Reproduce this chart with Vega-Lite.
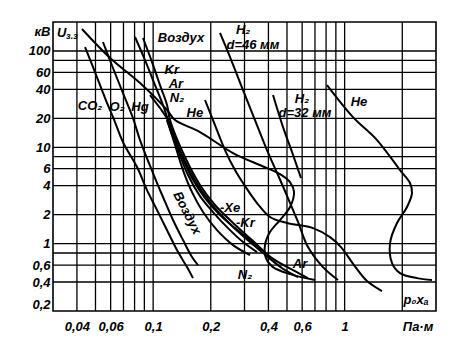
{
  "$schema": "https://vega.github.io/schema/vega-lite/v6.json",
  "autosize": {"type": "none"},
  "width": 383,
  "height": 289,
  "padding": {"left": 53, "top": 22, "right": 32, "bottom": 45},
  "background": "white",
  "config": {
    "view": {"stroke": "black", "strokeWidth": 1.6},
    "text": {"font": "Liberation Sans", "fontStyle": "italic", "fontWeight": "bold", "fontSize": 13, "color": "black", "baseline": "middle"},
    "axis": {"labelFont": "Liberation Sans", "labelFontStyle": "italic", "labelFontWeight": "bold", "labelFontSize": 13, "labelColor": "black", "grid": false, "ticks": false, "domain": false, "title": null, "labelOverlap": false, "labelFlush": false}
  },
  "datasets": {
    "curves": [
      {"s":"CO2","o":1,"x":0.0441,"y":110},{"s":"CO2","o":2,"x":0.0497,"y":60.5},{"s":"CO2","o":3,"x":0.0561,"y":32.5},{"s":"CO2","o":4,"x":0.0632,"y":18.3},{"s":"CO2","o":5,"x":0.0696,"y":11.3},{"s":"CO2","o":6,"x":0.0824,"y":6.24},{"s":"CO2","o":7,"x":0.0929,"y":3.6},{"s":"CO2","o":8,"x":0.1048,"y":2.23},{"s":"CO2","o":9,"x":0.1182,"y":1.38},{"s":"CO2","o":10,"x":0.1332,"y":0.858},{"s":"CO2","o":11,"x":0.1503,"y":0.571},{"s":"CO2","o":12,"x":0.1615,"y":0.439},
      {"s":"O2","o":1,"x":0.0547,"y":124},{"s":"O2","o":2,"x":0.0617,"y":66.6},{"s":"O2","o":3,"x":0.0696,"y":36.6},{"s":"O2","o":4,"x":0.0785,"y":20.1},{"s":"O2","o":5,"x":0.0854,"y":11.9},{"s":"O2","o":6,"x":0.0998,"y":5.41},{"s":"O2","o":7,"x":0.1126,"y":3.05},{"s":"O2","o":8,"x":0.127,"y":1.76},{"s":"O2","o":9,"x":0.1432,"y":1.09},{"s":"O2","o":10,"x":0.1596,"y":0.726},{"s":"O2","o":11,"x":0.1715,"y":0.599},
      {"s":"Hg","o":1,"x":0.0425,"y":169.2},{"s":"Hg","o":2,"x":0.0596,"y":84.6},{"s":"Hg","o":3,"x":0.0854,"y":46.5},{"s":"Hg","o":4,"x":0.1182,"y":24.4},{"s":"Hg","o":5,"x":0.1301,"y":19.2},{"s":"Hg","o":6,"x":0.1757,"y":14.4},{"s":"Hg","o":7,"x":0.2613,"y":8.72},{"s":"Hg","o":8,"x":0.3703,"y":6.4},{"s":"Hg","o":9,"x":0.4598,"y":5.28},{"s":"Hg","o":10,"x":0.5185,"y":4.36},{"s":"Hg","o":11,"x":0.5442,"y":3.43},{"s":"Hg","o":12,"x":0.5185,"y":2.4},{"s":"Hg","o":13,"x":0.4598,"y":1.76},{"s":"Hg","o":14,"x":0.4077,"y":1.32},{"s":"Hg","o":15,"x":0.3838,"y":0.966},{"s":"Hg","o":16,"x":0.3885,"y":0.708},{"s":"Hg","o":17,"x":0.4227,"y":0.571},{"s":"Hg","o":18,"x":0.5185,"y":0.483},{"s":"Hg","o":19,"x":0.7003,"y":0.419},
      {"s":"Kr","o":1,"x":0.0804,"y":139.7},{"s":"Kr","o":2,"x":0.0907,"y":80.6},{"s":"Kr","o":3,"x":0.1023,"y":44.3},{"s":"Kr","o":4,"x":0.1126,"y":27.5},{"s":"Kr","o":5,"x":0.1196,"y":19.2},{"s":"Kr","o":6,"x":0.1381,"y":8.94},{"s":"Kr","o":7,"x":0.1596,"y":4.8},{"s":"Kr","o":8,"x":0.1866,"y":2.97},{"s":"Kr","o":9,"x":0.2235,"y":1.98},{"s":"Kr","o":10,"x":0.2676,"y":1.45},{"s":"Kr","o":11,"x":0.3205,"y":1.09},{"s":"Kr","o":12,"x":0.3703,"y":0.858},
      {"s":"Ar","o":1,"x":0.0885,"y":136.4},{"s":"Ar","o":2,"x":0.0987,"y":76.8},{"s":"Ar","o":3,"x":0.1086,"y":44.3},{"s":"Ar","o":4,"x":0.1182,"y":27.5},{"s":"Ar","o":5,"x":0.1225,"y":19.2},{"s":"Ar","o":6,"x":0.1467,"y":7.93},{"s":"Ar","o":7,"x":0.1757,"y":4.06},{"s":"Ar","o":8,"x":0.2104,"y":2.52},{"s":"Ar","o":9,"x":0.2582,"y":1.68},{"s":"Ar","o":10,"x":0.3283,"y":1.09},{"s":"Ar","o":11,"x":0.4177,"y":0.708},{"s":"Ar","o":12,"x":0.5376,"y":0.532},{"s":"Ar","o":13,"x":0.6437,"y":0.439},
      {"s":"N2","o":1,"x":0.0963,"y":34.9},{"s":"N2","o":2,"x":0.1086,"y":25.6},{"s":"N2","o":3,"x":0.1196,"y":19.2},{"s":"N2","o":4,"x":0.1415,"y":8.32},{"s":"N2","o":5,"x":0.1674,"y":4.36},{"s":"N2","o":6,"x":0.1981,"y":2.7},{"s":"N2","o":7,"x":0.2402,"y":1.76},{"s":"N2","o":8,"x":0.2947,"y":1.2},{"s":"N2","o":9,"x":0.3703,"y":0.818},{"s":"N2","o":10,"x":0.471,"y":0.558},{"s":"N2","o":11,"x":0.571,"y":0.45},
      {"s":"Air","o":1,"x":0.1182,"y":19.2},{"s":"Air","o":2,"x":0.1301,"y":10.6},{"s":"Air","o":3,"x":0.1432,"y":5.81},{"s":"Air","o":4,"x":0.1596,"y":3.43},{"s":"Air","o":5,"x":0.1822,"y":2.13},{"s":"Air","o":6,"x":0.2156,"y":1.38},{"s":"Air","o":7,"x":0.2613,"y":0.966},{"s":"Air","o":8,"x":0.3205,"y":0.761},
      {"s":"Xe","o":1,"x":0.1182,"y":19.2},{"s":"Xe","o":2,"x":0.1349,"y":9.37},{"s":"Xe","o":3,"x":0.1521,"y":5.16},{"s":"Xe","o":4,"x":0.1757,"y":3.12},{"s":"Xe","o":5,"x":0.2054,"y":2.13},{"s":"Xe","o":6,"x":0.246,"y":1.45},{"s":"Xe","o":7,"x":0.2947,"y":1.04},{"s":"Xe","o":8,"x":0.3487,"y":0.818},
      {"s":"He1","o":1,"x":0.1866,"y":31.0},{"s":"He1","o":2,"x":0.2104,"y":17.0},{"s":"He1","o":3,"x":0.2373,"y":9.37},{"s":"He1","o":4,"x":0.2676,"y":5.81},{"s":"He1","o":5,"x":0.2947,"y":4.26},{"s":"He1","o":6,"x":0.3487,"y":2.64},{"s":"He1","o":7,"x":0.4077,"y":1.89},{"s":"He1","o":8,"x":0.5002,"y":1.64},{"s":"He1","o":9,"x":0.6838,"y":1.45},{"s":"He1","o":10,"x":0.8388,"y":1.17},{"s":"He1","o":11,"x":0.9573,"y":0.922},{"s":"He1","o":12,"x":1.119,"y":0.599},{"s":"He1","o":13,"x":1.309,"y":0.409},{"s":"He1","o":14,"x":1.567,"y":0.322},
      {"s":"H2a","o":1,"x":0.2235,"y":153.8},{"s":"H2a","o":2,"x":0.2582,"y":76.8},{"s":"H2a","o":3,"x":0.2947,"y":39.3},{"s":"H2a","o":4,"x":0.3403,"y":19.2},{"s":"H2a","o":5,"x":0.3932,"y":9.37},{"s":"H2a","o":6,"x":0.4488,"y":5.16},{"s":"H2a","o":7,"x":0.5061,"y":2.97},{"s":"H2a","o":8,"x":0.571,"y":1.68},{"s":"H2a","o":9,"x":0.6437,"y":0.922},{"s":"H2a","o":10,"x":0.7709,"y":0.571},{"s":"H2a","o":11,"x":0.9235,"y":0.419},
      {"s":"H2b","o":1,"x":0.4227,"y":34.9},{"s":"H2b","o":2,"x":0.4767,"y":16.2},{"s":"H2b","o":3,"x":0.5311,"y":8.94},{"s":"H2b","o":4,"x":0.5917,"y":4.8},
      {"s":"He2","o":1,"x":0.809,"y":44.3},{"s":"He2","o":2,"x":1.106,"y":20.6},{"s":"He2","o":3,"x":1.476,"y":11.9},{"s":"He2","o":4,"x":1.946,"y":5.81},{"s":"He2","o":5,"x":2.194,"y":4.26},{"s":"He2","o":6,"x":2.248,"y":3.35},{"s":"He2","o":7,"x":2.117,"y":2.4},{"s":"He2","o":8,"x":1.877,"y":1.64},{"s":"He2","o":9,"x":1.726,"y":1.01},{"s":"He2","o":10,"x":1.768,"y":0.629},{"s":"He2","o":11,"x":1.946,"y":0.495},{"s":"He2","o":12,"x":2.387,"y":0.439},{"s":"He2","o":13,"x":2.859,"y":0.419}
    ],
    "vgrid": [{"v":0.04},{"v":0.05},{"v":0.06},{"v":0.07},{"v":0.08},{"v":0.09},{"v":0.1},{"v":0.2},{"v":0.3},{"v":0.4},{"v":0.5},{"v":0.6},{"v":0.7},{"v":0.8},{"v":0.9},{"v":1},{"v":2}],
    "hgrid": [{"v":0.4},{"v":0.6},{"v":0.8},{"v":1},{"v":2},{"v":4},{"v":6},{"v":8},{"v":10},{"v":20},{"v":40},{"v":60},{"v":80},{"v":100}],
    "labels": [
      {"t":"Воздух","x":0.1398,"y":136.4},{"t":"Kr","x":0.1251,"y":63.4},{"t":"Ar","x":0.1315,"y":45.4},{"t":"N₂","x":0.1332,"y":32.5},{"t":"He","x":0.1652,"y":22.7},
      {"t":"CO₂","x":0.0468,"y":26.8},{"t":"O₂","x":0.0648,"y":26.2},{"t":"Hg","x":0.0854,"y":26.2},
      {"t":"H₂","x":0.295,"y":165},{"t":"d=46 мм","x":0.332,"y":115.4},{"t":"H₂","x":0.5985,"y":31.7},{"t":"d=32 мм","x":0.621,"y":22.7},
      {"t":"He","x":1.189,"y":29.6},{"t":"N₂","x":0.3018,"y":0.474},{"t":"Ar","x":0.5849,"y":0.616},{"t":"p₀xₐ","x":2.36,"y":0.263}
    ],
    "leftlabels": [{"t":"-Xe","x":0.2235,"y":2.35},{"t":"-Kr","x":0.2707,"y":1.64},{"t":"U","x":0.0315,"y":153.8}],
    "sublabels": [{"t":"з.з","x":0.0351,"y":143}],
    "rotlabels": [{"t":"Воздух","x":0.1503,"y":2.08}]
  },
  "layer": [
    {
      "data": {"name": "vgrid"},
      "mark": {"type": "rule", "color": "black", "strokeWidth": 1.3},
      "encoding": {
        "x": {"field": "v", "type": "quantitative", "scale": {"type": "log", "domain": [0.03, 3], "nice": false},
          "axis": {"values": [0.04, 0.06, 0.1, 0.2, 0.4, 0.6, 1, 2], "labelPadding": 9,
            "labelExpr": "datum.value == 2 ? 'Па·м' : replace(toString(datum.value), '.', ',')",
            "labelAlign": {"condition": {"test": "datum.value == 2", "value": "left"}, "value": "center"}}}
      }
    },
    {
      "data": {"name": "hgrid"},
      "mark": {"type": "rule", "color": "black", "strokeWidth": 1.3},
      "encoding": {
        "y": {"field": "v", "type": "quantitative", "scale": {"type": "log", "domain": [0.2, 200], "nice": false},
          "axis": {"values": [0.2, 0.4, 0.6, 1, 2, 4, 6, 10, 20, 40, 60, 100, 158], "labelPadding": 3,
            "labelBaseline": {"condition": {"test": "datum.value == 0.2", "value": "bottom"}, "value": "middle"},
            "labelExpr": "datum.value == 158 ? 'кВ' : replace(toString(datum.value), '.', ',')"}}
      }
    },
    {
      "data": {"name": "curves"},
      "mark": {"type": "line", "color": "black", "strokeWidth": 2, "interpolate": "catmull-rom"},
      "encoding": {
        "x": {"field": "x", "type": "quantitative", "scale": {"type": "log", "domain": [0.03, 3], "nice": false}},
        "y": {"field": "y", "type": "quantitative", "scale": {"type": "log", "domain": [0.2, 200], "nice": false}},
        "detail": {"field": "s"},
        "order": {"field": "o", "type": "quantitative"}
      }
    },
    {
      "data": {"name": "labels"},
      "mark": {"type": "text", "align": "center"},
      "encoding": {
        "x": {"field": "x", "type": "quantitative", "scale": {"type": "log", "domain": [0.03, 3], "nice": false}},
        "y": {"field": "y", "type": "quantitative", "scale": {"type": "log", "domain": [0.2, 200], "nice": false}},
        "text": {"field": "t"}
      }
    },
    {
      "data": {"name": "leftlabels"},
      "mark": {"type": "text", "align": "left"},
      "encoding": {
        "x": {"field": "x", "type": "quantitative", "scale": {"type": "log", "domain": [0.03, 3], "nice": false}},
        "y": {"field": "y", "type": "quantitative", "scale": {"type": "log", "domain": [0.2, 200], "nice": false}},
        "text": {"field": "t"}
      }
    },
    {
      "data": {"name": "sublabels"},
      "mark": {"type": "text", "align": "left", "fontSize": 9},
      "encoding": {
        "x": {"field": "x", "type": "quantitative", "scale": {"type": "log", "domain": [0.03, 3], "nice": false}},
        "y": {"field": "y", "type": "quantitative", "scale": {"type": "log", "domain": [0.2, 200], "nice": false}},
        "text": {"field": "t"}
      }
    },
    {
      "data": {"name": "rotlabels"},
      "mark": {"type": "text", "align": "center", "angle": 63},
      "encoding": {
        "x": {"field": "x", "type": "quantitative", "scale": {"type": "log", "domain": [0.03, 3], "nice": false}},
        "y": {"field": "y", "type": "quantitative", "scale": {"type": "log", "domain": [0.2, 200], "nice": false}},
        "text": {"field": "t"}
      }
    }
  ]
}
